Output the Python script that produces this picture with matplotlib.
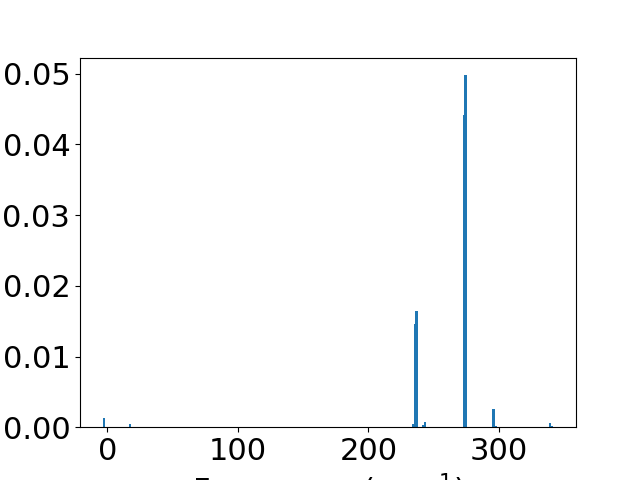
import matplotlib
matplotlib.use('Agg')
import matplotlib.pyplot as plt

plt.rcParams['font.size'] = 22

freqs = [-2.6, 17.4, 234.1, 235.7, 236.8, 241.7, 243.3, 273.0, 274.3, 295.7, 297.6, 339.0, 340.6]
intensities = [0.00127, 0.0004, 0.0004, 0.0146, 0.0164, 0.0003, 0.0007,
               0.0442, 0.0498, 0.00255, 0.0002, 0.00057, 0.0002]

fig = plt.figure(figsize=(6.4, 4.8), dpi=100)
ax = fig.add_subplot(1, 1, 1)
ax.bar(freqs, intensities, width=2)
ax.set_xlabel('Frequency (cm$^{-1}$)')
ax.set_ylabel('Intensity')

fig.savefig('out.png')
